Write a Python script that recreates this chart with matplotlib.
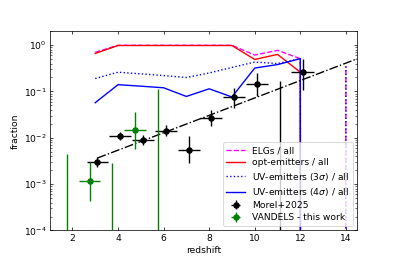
import numpy as np
import matplotlib
matplotlib.use("Agg")
import matplotlib.pyplot as plt

# fraction curves vs redshift
z_bins = [3, 4, 5, 6, 7, 8, 9, 10, 11, 12, 13, 14]
elg_all = [0.70, 0.99, 0.99, 0.99, 0.99, 0.99, 0.99, 0.61, 0.77, 0.51, 0.0, 0.35]
opt_all = [0.66, 0.98, 0.98, 0.98, 0.98, 0.98, 0.98, 0.49, 0.63, 0.26, 0.0, 0.0]
uv3_all = [0.19, 0.26, 0.24, 0.22, 0.20, 0.25, 0.33, 0.43, 0.40, 0.51, 0.0, 0.35]
uv4_all = [0.057, 0.14, 0.13, 0.12, 0.078, 0.114, 0.076, 0.32, 0.38, 0.51, 0.0, 0.0]

# fit line (dash-dot)
fit_z = [3.1, 15.0]
fit_f = [0.00366, 0.63]

# Morel+2025
morel_z = [3.1, 4.1, 5.1, 6.1, 7.1, 8.1, 9.1, 10.1, 11.1, 12.1]
morel_f = [0.0030, 0.0107, 0.0088, 0.0138, 0.0055, 0.027, 0.075, 0.146, 0.0, 0.26]
morel_lo = [0.0007, 0.0019, 0.0019, 0.0028, 0.0027, 0.009, 0.031, 0.067, 0.0, 0.154]
morel_hi = [0.0008, 0.0024, 0.0029, 0.0052, 0.0052, 0.013, 0.045, 0.104, 0.166, 0.23]
morel_xerr = [0.48, 0.48, 0.48, 0.48, 0.48, 0.48, 0.48, 0.5, 0.5, 0.5]

# VANDELS - this work
vand_z = [1.75, 2.75, 3.75, 4.75, 5.75]
vand_f = [0.0, 0.00114, 0.0, 0.015, 0.0]
vand_lo = [0.0, 0.0007, 0.0, 0.0093, 0.0]
vand_hi = [0.0045, 0.0018, 0.0028, 0.021, 0.114]
vand_xerr = [0.48, 0.48, 0.48, 0.5, 0.48]

DPI = 397 / 6.0
fig = plt.figure(figsize=(6.0, 264 / DPI), dpi=DPI)
ax = fig.add_axes([0.125, 0.127, 0.775, 0.755])
ax.set_yscale("log")

ax.plot(z_bins, elg_all, color="magenta", ls="--", label="ELGs / all")
ax.plot(z_bins, opt_all, color="red", ls="-", label="opt-emitters / all")
ax.plot(z_bins, uv3_all, color="blue", ls=":", label=r"UV-emitters (3$\sigma$) / all")
ax.plot(z_bins, uv4_all, color="blue", ls="-", label=r"UV-emitters (4$\sigma$) / all")

ax.plot(fit_z, fit_f, color="black", ls="-.")

ax.errorbar(morel_z, morel_f, xerr=morel_xerr, yerr=[morel_lo, morel_hi],
            fmt="o", color="black", label="Morel+2025")
ax.errorbar(vand_z, vand_f, xerr=vand_xerr, yerr=[vand_lo, vand_hi],
            fmt="o", color="green", label="VANDELS - this work")

ax.set_xlim(1, 14.5)
ax.set_ylim(1e-4, 2)
ax.set_xlabel("redshift")
ax.set_ylabel("fraction")
ax.tick_params(which="both", direction="in", top=True, right=True)
ax.legend(loc="lower right", labelspacing=0.35)

fig.savefig("out.png", dpi=DPI)
